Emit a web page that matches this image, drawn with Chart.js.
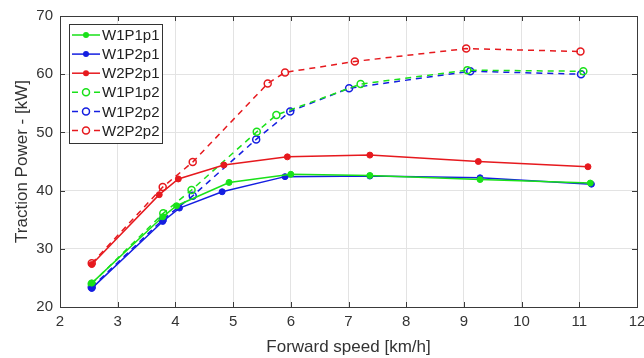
<!DOCTYPE html>
<html>
<head>
<meta charset="utf-8">
<script src="https://cdn.jsdelivr.net/npm/chart.js@4"></script>
<style>
  html, body { margin: 0; padding: 0; background: #fff; }
  #wrap { width: 644px; height: 358px; }
</style>
</head>
<body>
<div id="wrap"><canvas id="powerChart" width="644" height="358"></canvas></div>
<script>
// Dades llegides del gràfic
const xTicks = [2, 3, 4, 5, 6, 7, 8, 9, 10, 11, 12];
const yTicks = [20, 30, 40, 50, 60, 70];

const seriesLabels = ['W1P1p1', 'W1P2p1', 'W2P2p1', 'W1P1p2', 'W1P2p2', 'W2P2p2'];

const speedW1P1p1 = [2.55, 3.78, 4.02, 4.93, 6.00, 7.37, 9.28, 11.19];
const powerW1P1p1 = [24.1, 35.5, 37.4, 41.4, 42.8, 42.6, 41.9, 41.3];

const speedW1P2p1 = [2.55, 3.78, 4.07, 4.81, 5.90, 7.37, 9.28, 11.21];
const powerW1P2p1 = [23.2, 34.7, 37.0, 39.8, 42.4, 42.5, 42.2, 41.1];

const speedW2P2p1 = [2.55, 3.72, 4.05, 4.84, 5.94, 7.37, 9.25, 11.15];
const powerW2P2p1 = [27.3, 39.3, 42.0, 44.4, 45.8, 46.1, 45.0, 44.1];

const speedW1P1p2 = [2.55, 3.79, 4.28, 5.41, 5.75, 7.21, 9.06, 11.07];
const powerW1P1p2 = [24.0, 36.1, 40.1, 50.1, 53.0, 58.3, 60.7, 60.5];

const speedW1P2p2 = [2.55, 3.78, 4.30, 5.40, 5.99, 7.01, 9.11, 11.03];
const powerW1P2p2 = [23.4, 35.0, 39.1, 48.8, 53.6, 57.6, 60.5, 60.0];

const speedW2P2p2 = [2.55, 3.78, 4.30, 5.60, 5.90, 7.11, 9.04, 11.02];
const powerW2P2p2 = [27.5, 40.6, 44.9, 58.4, 60.3, 62.2, 64.4, 63.9];

const green = 'rgb(25, 225, 25)';
const blue = 'rgb(20, 30, 225)';
const red = 'rgb(230, 25, 30)';

function points(xs, ys) {
    return xs.map((x, i) => ({ x: x, y: ys[i] }));
}

function solidSet(label, xs, ys, color) {
    return {
        label: label,
        data: points(xs, ys),
        borderColor: color,
        backgroundColor: color,
        borderWidth: 1.5,
        pointRadius: 3,
        pointBorderWidth: 1,
        pointBackgroundColor: color,
        tension: 0
    };
}

function dashedSet(label, xs, ys, color) {
    return {
        label: label,
        data: points(xs, ys),
        borderColor: color,
        backgroundColor: 'rgba(0,0,0,0)',
        borderWidth: 1.5,
        borderDash: [6, 5],
        pointRadius: 3.5,
        pointBorderWidth: 1.5,
        pointBackgroundColor: 'rgba(0,0,0,0)',
        tension: 0
    };
}

// Marc de l'àrea i llegenda estil MATLAB
const frameLegend = {
    id: 'frameLegend',
    afterDatasetsDraw(chart) {
        const c = chart.ctx;
        const a = chart.chartArea;
        c.save();
        c.strokeStyle = '#3a3a3a';
        c.lineWidth = 1;
        c.strokeRect(a.left + 0.5, a.top + 0.5, a.right - a.left, a.bottom - a.top);

        // petites marques interiors
        const xs = chart.scales.x, ys = chart.scales.y;
        c.beginPath();
        xTicks.forEach(t => {
            const px = Math.round(xs.getPixelForValue(t)) + 0.5;
            c.moveTo(px, a.bottom); c.lineTo(px, a.bottom - 5);
            c.moveTo(px, a.top); c.lineTo(px, a.top + 5);
        });
        yTicks.forEach(t => {
            const py = Math.round(ys.getPixelForValue(t)) + 0.5;
            c.moveTo(a.left, py); c.lineTo(a.left + 5, py);
            c.moveTo(a.right, py); c.lineTo(a.right - 5, py);
        });
        c.stroke();

        // llegenda
        const bx = 69.5, by = 24.5, bw = 93, bh = 119;
        c.fillStyle = '#fff';
        c.fillRect(bx, by, bw, bh);
        c.strokeStyle = '#333';
        c.strokeRect(bx, by, bw, bh);
        c.font = '15px "Liberation Sans", Arial, sans-serif';
        c.textBaseline = 'middle';
        chart.data.datasets.forEach((ds, i) => {
            const y = 35 + i * 19.1;
            c.strokeStyle = ds.borderColor;
            c.lineWidth = 1.5;
            c.setLineDash(ds.borderDash || []);
            c.beginPath();
            c.moveTo(72, y); c.lineTo(100, y);
            c.stroke();
            c.setLineDash([]);
            c.beginPath();
            c.arc(86, y, ds.borderDash ? 3.5 : 3, 0, Math.PI * 2);
            if (ds.borderDash) {
                c.fillStyle = '#fff';
                c.fill();
                c.stroke();
            } else {
                c.fillStyle = ds.borderColor;
                c.fill();
            }
            c.fillStyle = '#222';
            c.fillText(ds.label, 102, y + 1);
        });
        c.restore();
    }
};

const ctx = document.getElementById('powerChart').getContext('2d');
const powerChart = new Chart(ctx, {
    type: 'line',
    data: {
        datasets: [
            solidSet(seriesLabels[0], speedW1P1p1, powerW1P1p1, green),
            solidSet(seriesLabels[1], speedW1P2p1, powerW1P2p1, blue),
            solidSet(seriesLabels[2], speedW2P2p1, powerW2P2p1, red),
            dashedSet(seriesLabels[3], speedW1P1p2, powerW1P1p2, green),
            dashedSet(seriesLabels[4], speedW1P2p2, powerW1P2p2, blue),
            dashedSet(seriesLabels[5], speedW2P2p2, powerW2P2p2, red)
        ]
    },
    options: {
        responsive: false,
        animation: false,
        layout: { padding: { top: 16, right: 7, left: 0, bottom: 0 } },
        plugins: {
            legend: { display: false },
            tooltip: { enabled: false }
        },
        scales: {
            x: {
                type: 'linear',
                min: 2,
                max: 12,
                afterFit: s => { s.height = 51; s.paddingRight = 0; s.paddingLeft = 0; },
                afterBuildTicks: s => { s.ticks = xTicks.map(v => ({ value: v })); },
                grid: { color: '#e3e3e3', drawTicks: false },
                border: { display: false },
                ticks: {
                    padding: 6,
                    color: '#333',
                    font: { family: '"Liberation Sans", Arial, sans-serif', size: 15 }
                },
                title: {
                    display: true,
                    text: 'Forward speed [km/h]',
                    color: '#333',
                    padding: { top: 2, bottom: 0 },
                    font: { family: '"Liberation Sans", Arial, sans-serif', size: 17 }
                }
            },
            y: {
                min: 20,
                max: 70,
                afterFit: s => { s.width = 60; },
                afterBuildTicks: s => { s.ticks = yTicks.map(v => ({ value: v })); },
                grid: { color: '#e3e3e3', drawTicks: false },
                border: { display: false },
                ticks: {
                    padding: 7,
                    color: '#333',
                    font: { family: '"Liberation Sans", Arial, sans-serif', size: 15 }
                },
                title: {
                    display: true,
                    text: 'Traction Power - [kW]',
                    color: '#333',
                    padding: { top: 12, bottom: 0 },
                    font: { family: '"Liberation Sans", Arial, sans-serif', size: 17 }
                }
            }
        }
    },
    plugins: [frameLegend]
});
</script>
</body>
</html>
